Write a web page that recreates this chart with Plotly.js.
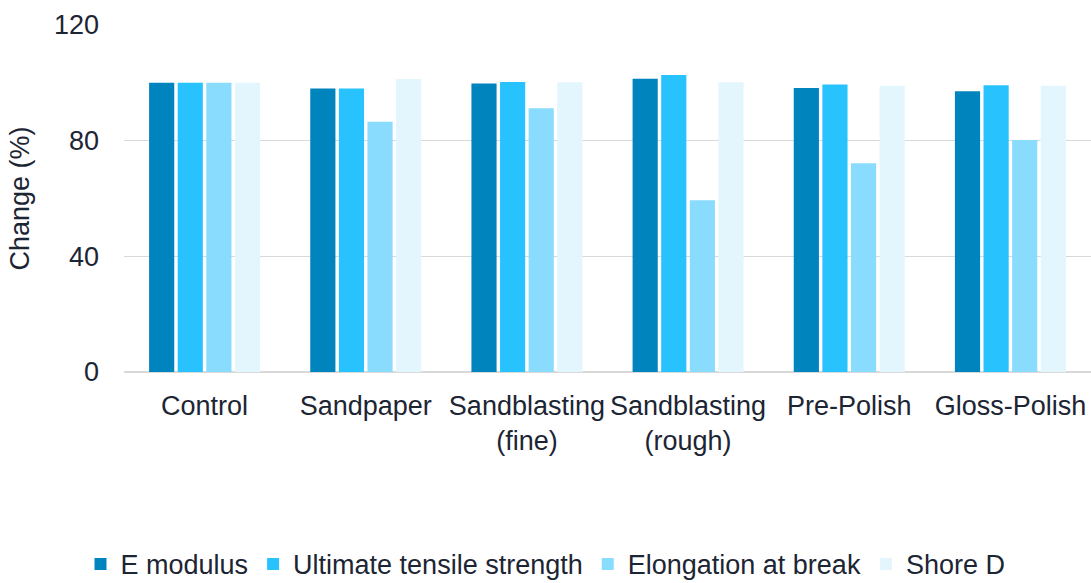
<!DOCTYPE html>
<html><head><meta charset="utf-8">
<script src="https://cdn.plot.ly/plotly-3.0.1.min.js"></script>
<style>html,body{margin:0;padding:0;background:#fff}#chart{width:1091px;height:583px}</style>
</head><body><div id="chart"></div>
<script>
const categories = ["Control","Sandpaper","Sandblasting<br>(fine)","Sandblasting<br>(rough)","Pre-Polish","Gloss-Polish"];
const seriesNames = ["E modulus","Ultimate tensile strength","Elongation at break","Shore D"];
const eModulus = [100, 98, 99.8, 101.4, 98.2, 97.1];
const uts = [100, 98, 100.3, 102.7, 99.4, 99.2];
const elongation = [100, 86.5, 91.2, 59.4, 72.2, 80.2];
const shoreD = [100, 101.3, 100.2, 100.2, 99, 99];
const colors = ["#0084BD","#28C3FF","#8ADCFF","#E3F6FE"];
const yTicks = [0, 40, 80, 120];

const allValues = [eModulus, uts, elongation, shoreD];
const traces = allValues.map((v, i) => ({
  type: "bar", x: categories, y: v, name: seriesNames[i],
  marker: {color: colors[i]}, hoverinfo: "x+y"
}));

const font = {family: "Liberation Sans, Arial, sans-serif", size: 27, color: "#1c2533"};
const layout = {
  width: 1091, height: 583,
  margin: {l: 124, r: 0, t: 25, b: 211},
  paper_bgcolor: "#fff", plot_bgcolor: "#fff",
  font: font,
  barmode: "group", bargap: 0.29, bargroupgap: 0.12,
  showlegend: true,
  legend: {orientation: "h", xref: "container", yref: "container", x: 0.5, xanchor: "center", y: 0.074, yanchor: "top",
           font: font, itemwidth: 30, tracegroupgap: 0, traceorder: "normal"},
  xaxis: {type: "category", showgrid: false, showline: false, zeroline: false, ticks: "", tickfont: font,
          ticklabelstandoff: 15, automargin: false},
  yaxis: {range: [0, 120], tickvals: yTicks, showgrid: true, gridcolor: "#d9d9d9", gridwidth: 1.5,
          zeroline: true, zerolinecolor: "#d9d9d9", zerolinewidth: 1.5, showline: false, ticks: "",
          tickfont: font, ticklabelstandoff: 24, automargin: false,
          title: {text: "Change (%)", font: font, standoff: 16}}
};
Plotly.newPlot("chart", traces, layout, {displayModeBar: false, staticPlot: true});
</script></body></html>
